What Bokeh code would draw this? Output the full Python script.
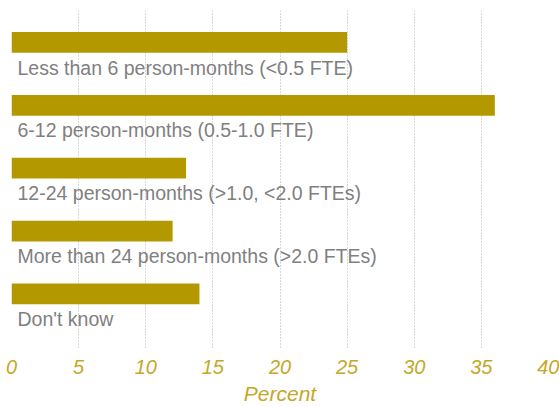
from bokeh.plotting import figure
from bokeh.models import Range1d, ColumnDataSource, FixedTicker
from bokeh.core.properties import value
from bokeh.embed import file_html
from bokeh.resources import INLINE

categories = [
    "Less than 6 person-months  (<0.5 FTE)",
    "6-12 person-months (0.5-1.0 FTE)",
    "12-24 person-months (>1.0, <2.0 FTEs)",
    "More than 24 person-months (>2.0 FTEs)",
    "Don't know",
]
percent = [25, 36, 13, 12, 14]
x_ticks = [0, 5, 10, 15, 20, 25, 30, 35, 40]

idx = list(range(len(categories)))
src = ColumnDataSource(dict(
    y=idx,
    val=percent,
    label=categories,
    ly=[i + 0.4 for i in idx],
    lx=[0 for _ in idx],
))

p = figure(width=559, height=407, output_backend="svg", toolbar_location=None,
           x_range=Range1d(0, 40), y_range=Range1d(4.883, -0.508),
           min_border_left=11, min_border_right=11, min_border_top=10, min_border_bottom=52)
p.outline_line_color = None
p.background_fill_color = "white"

p.hbar(y="y", right="val", left=0, height=0.33, source=src,
       fill_color="#b39800", line_color=None)
p.text(x="lx", y="ly", text="label", source=src, x_offset=6,
       text_font=value("Liberation Sans"), text_font_size="19.5px",
       text_color="#808080", text_baseline="middle", text_align="left")

p.yaxis.visible = False
p.ygrid.grid_line_color = None
p.xgrid.ticker = FixedTicker(ticks=x_ticks)
p.xgrid.grid_line_color = "#b0b0b0"
p.xgrid.grid_line_dash = "1 2"
p.xgrid.grid_line_width = 1

ax = p.xaxis[0]
ax.ticker = FixedTicker(ticks=x_ticks)
ax.axis_line_color = None
ax.major_tick_line_color = None
ax.minor_tick_line_color = None
ax.major_label_text_font = "Liberation Sans"
ax.major_label_text_font_style = "italic"
ax.major_label_text_font_size = "20px"
ax.major_label_text_color = "#c6a72a"
ax.major_label_standoff = 4
ax.axis_label = "Percent"
ax.axis_label_text_font = "Liberation Sans"
ax.axis_label_text_font_style = "italic"
ax.axis_label_text_font_size = "21px"
ax.axis_label_text_color = "#c6a72a"
ax.axis_label_standoff = 5

open("out.html", "w").write(file_html(p, INLINE))
